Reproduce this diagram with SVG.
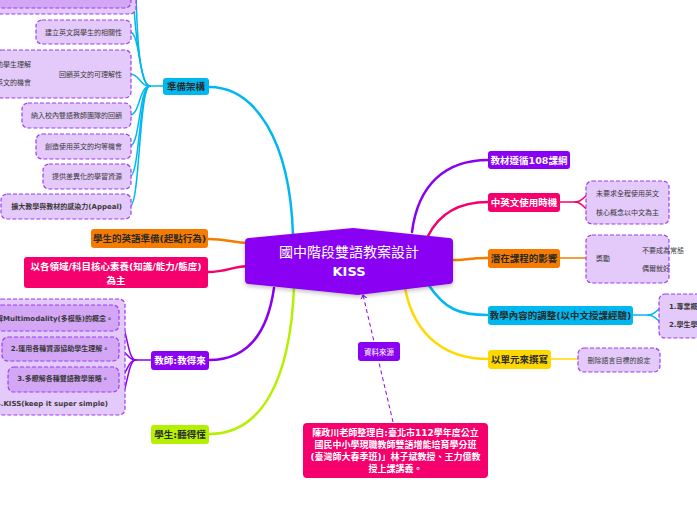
<svg xmlns="http://www.w3.org/2000/svg" width="697" height="520" viewBox="0 0 697 520">
<defs>
<style>
text{font-family:"DejaVu Sans","Noto Sans CJK TC",sans-serif;}
.box{fill:#e4c9fb;stroke:#9d3cf5;stroke-width:1.2;stroke-dasharray:4 2;}
.inner{fill:#d3a6f6;stroke:#9d3cf5;stroke-width:1.2;stroke-dasharray:4 2;}
.ct{font-size:7px;fill:#3a3a3a;}
.ctb{font-size:7px;fill:#3a3a3a;font-weight:bold;}
.nt{font-size:9.5px;font-weight:bold;text-anchor:middle;}
.w{fill:#ffffff;}
.d{fill:#2a2a2a;}
.c{fill:none;stroke-linecap:round;}
.main{stroke-width:2.5;}
.sub{stroke-width:1.5;}
.blue{stroke:#00b8f0;}
.pur{stroke:#8a00f2;}
.pink{stroke:#f5006c;}
.orng{stroke:#f57c00;}
.yel{stroke:#ffd800;}
.grn{stroke:#b4f000;}
</style>
<filter id="sh" x="-10%" y="-20%" width="120%" height="150%">
<feDropShadow dx="0" dy="2" stdDeviation="2" flood-color="#000" flood-opacity="0.25"/>
</filter>
<marker id="arr" markerWidth="8" markerHeight="8" refX="4" refY="4" orient="auto" markerUnits="userSpaceOnUse">
<path d="M0,1 L4,4 L0,7" fill="none" stroke="#8a00f2" stroke-width="1"/>
</marker>
</defs>
<rect width="697" height="520" fill="#ffffff"/>

<g id="connectors">
<path class="c main blue" d="M209,87 C255,87 290,140 293,235"/>
<path class="c main orng" d="M208,239 C228,239 232,243 250,243"/>
<path class="c main pink" d="M208,272 C228,272 232,266 250,266"/>
<path class="c main pur" d="M209,360 C250,360 268,330 274,288"/>
<path class="c main grn" d="M209,434 C262,434 290,380 294,288"/>
<path class="c main pur" d="M412,232 C418,185 445,160 488,160"/>
<path class="c main pink" d="M428,236 C440,212 460,202 488,202"/>
<path class="c main orng" d="M453,260 C466,260 468,258 488,258"/>
<path class="c main blue" d="M428,284 C445,310 460,315 488,315"/>
<path class="c main yel" d="M405,288 C415,340 450,359 488,359"/>
<path class="c sub blue" d="M163,86 L150,86 C140,86 137,40 136,-10"/>
<path class="c sub blue" d="M150,86 C141,86 134,30 133,-20"/>
<path class="c sub blue" d="M150,86 C139,86 140,32 130,32"/>
<path class="c sub blue" d="M150,86 C139,86 140,74 130,74"/>
<path class="c sub blue" d="M150,86 C139,86 140,115 130,115"/>
<path class="c sub blue" d="M150,86 C139,86 140,146 130,146"/>
<path class="c sub blue" d="M150,86 C139,86 140,176 130,176"/>
<path class="c sub blue" d="M150,86 C139,86 140,206 130,206"/>
<path class="c sub blue" d="M53,73 L44,73 M32,64 L41,64 Q44,64 44,67 L44,79 Q44,82 41,82 L32,82"/>
<path class="c sub pur" d="M151,360 L136,360 C126,360 128,318 115,318"/>
<path class="c sub pur" d="M136,360 C126,360 128,349 115,349"/>
<path class="c sub pur" d="M136,360 C126,360 128,379 115,379"/>
<path class="c sub pur" d="M136,360 C126,360 128,403 115,403"/>
<path class="c sub pink" d="M560,202 L575,202 C584,202 584,193 594,193"/>
<path class="c sub pink" d="M575,202 C584,202 584,212 594,212"/>
<path class="c sub orng" d="M560,258 L594,258"/>
<path class="c sub orng" d="M615,258 L626,258 M638,250 L629,250 Q626,250 626,253 L626,265 Q626,268 629,268 L638,268"/>
<path class="c sub blue" d="M633,315 L648,315 C657,315 657,306 667,306"/>
<path class="c sub blue" d="M648,315 C657,315 657,324 667,324"/>
<path class="c sub yel" d="M551,359 L578,359"/>
<path d="M393,422 L363,295" fill="none" stroke="#8a00f2" stroke-width="1" stroke-dasharray="4 3" marker-end="url(#arr)"/>
</g>

<g id="central">
<path d="M249,238 L353,228 L449,238 Q453,238 453,242 L453,280 Q453,284 449,284 L358,295 L249,284 Q245,284 245,280 L245,242 Q245,238 249,238 Z" fill="#8a00f2" filter="url(#sh)"/>
<text x="349" y="257" font-size="14" text-anchor="middle" class="w">國中階段雙語教案設計</text>
<text x="349" y="276" font-size="13" font-weight="bold" text-anchor="middle" class="w">KISS</text>
</g>

<g id="n-prep">
<rect x="163" y="78" width="46" height="17" rx="3" fill="#00b8f0"/>
<text x="186" y="90" class="nt d">準備架構</text>
</g>
<g id="n-prep-top">
<rect x="-5" y="-30" width="141" height="44" rx="6" class="box"/>
<rect x="-5" y="-30" width="136" height="38" rx="6" class="inner"/>
</g>
<g id="n-prep-1">
<rect x="36" y="20" width="95" height="24" rx="6" class="box"/>
<text x="122" y="34.5" text-anchor="end" class="ct">建立英文與學生的相關性</text>
</g>
<g id="n-prep-2">
<rect x="-5" y="50" width="136" height="48" rx="6" class="box"/>
<text x="122" y="76.5" text-anchor="end" class="ct">回饋英文的可理解性</text>
<text x="31" y="66.5" text-anchor="end" class="ct">幫助學生理解</text>
<text x="31" y="85" text-anchor="end" class="ct">增加使用英文的機會</text>
</g>
<g id="n-prep-3">
<rect x="22" y="103" width="109" height="25" rx="6" class="box"/>
<text x="122" y="118" text-anchor="end" class="ct">納入校內雙語教師團隊的回饋</text>
</g>
<g id="n-prep-4">
<rect x="36" y="134" width="95" height="25" rx="6" class="box"/>
<text x="122" y="149" text-anchor="end" class="ct">創造使用英文的均等機會</text>
</g>
<g id="n-prep-5">
<rect x="43" y="164" width="88" height="25" rx="6" class="box"/>
<text x="122" y="179" text-anchor="end" class="ct">提供差異化的學習資源</text>
</g>
<g id="n-prep-6">
<rect x="1" y="194" width="130" height="25" rx="6" class="box"/>
<text x="122" y="209" text-anchor="end" class="ctb">擴大教學與教材的感染力(Appeal)</text>
</g>

<g id="n-ready">
<rect x="91" y="229" width="117" height="19" rx="3" fill="#f57c00"/>
<text x="149.5" y="242" class="nt d">學生的英語準備(起點行為)</text>
</g>
<g id="n-core">
<rect x="24" y="257" width="184" height="31" rx="3" fill="#f5006c"/>
<text x="116" y="270" class="nt w">以各領域/科目核心素養(知識/能力/態度)</text>
<text x="116" y="284" class="nt w">為主</text>
</g>

<g id="n-teacher">
<rect x="151" y="351" width="58" height="19" rx="3" fill="#8a00f2"/>
<text x="180" y="364" class="nt w">教師:教得來</text>
</g>
<g id="n-teacher-kids">
<rect x="-5" y="299" width="130" height="116" rx="6" class="box"/>
<rect x="-5" y="305" width="124" height="26" rx="6" class="inner"/>
<text x="113" y="320.5" text-anchor="end" class="ctb">1.了解Multimodality(多模態)的概念。</text>
<rect x="2" y="337" width="117" height="24" rx="6" class="inner"/>
<text x="60" y="351" text-anchor="middle" class="ctb">2.運用各種資源協助學生理解。</text>
<rect x="8" y="367" width="111" height="25" rx="6" class="inner"/>
<text x="63" y="381" text-anchor="middle" class="ctb">3.多瞭解各種雙語教學策略。</text>
<text x="108" y="405.5" text-anchor="end" class="ctb">4.KISS(keep it super simple)</text>
</g>
<g id="n-student">
<rect x="151" y="425" width="58" height="19" rx="3" fill="#b4f000"/>
<text x="180" y="438" class="nt d">學生:聽得懂</text>
</g>

<g id="n-108">
<rect x="488" y="151" width="82" height="18" rx="3" fill="#8a00f2"/>
<text x="529" y="163.5" class="nt w">教材遵循108課綱</text>
</g>
<g id="n-lang">
<rect x="488" y="193" width="72" height="19" rx="3" fill="#f5006c"/>
<text x="524" y="206" class="nt w">中英文使用時機</text>
</g>
<g id="n-lang-kids">
<rect x="586" y="181" width="83" height="43" rx="6" class="box"/>
<text x="596" y="195.5" class="ct">未要求全程使用英文</text>
<text x="596" y="214.5" class="ct">核心概念以中文為主</text>
</g>
<g id="n-hidden">
<rect x="488" y="249" width="72" height="19" rx="3" fill="#f57c00"/>
<text x="524" y="262" class="nt d">潛在課程的影響</text>
</g>
<g id="n-hidden-kids">
<rect x="586" y="235" width="83" height="48" rx="6" class="box"/>
<text x="596" y="261" class="ct">獎勵</text>
<text x="642" y="252.5" class="ct">不要成為常態</text>
<text x="642" y="270.5" class="ct">偶爾就好</text>
</g>
<g id="n-adjust">
<rect x="488" y="306" width="145" height="19" rx="3" fill="#00b8f0"/>
<text x="560.5" y="319" class="nt d">教學內容的調整(以中文授課經驗)</text>
</g>
<g id="n-adjust-kids">
<rect x="659" y="294" width="50" height="44" rx="6" class="box"/>
<text x="669" y="308.5" class="ctb">1.專業概念</text>
<text x="669" y="327" class="ctb">2.學生學習</text>
</g>
<g id="n-unit">
<rect x="488" y="350" width="63" height="19" rx="3" fill="#ffd800"/>
<text x="519.5" y="363" class="nt d">以單元來撰寫</text>
</g>
<g id="n-unit-kid">
<rect x="578" y="348" width="82" height="24" rx="6" class="box"/>
<text x="619" y="362.5" text-anchor="middle" class="ct">刪除語言目標的設定</text>
</g>

<g id="n-srclabel">
<rect x="358" y="342" width="42" height="19" rx="3" fill="#8a00f2"/>
<text x="379" y="354.5" font-size="7.5" text-anchor="middle" class="w">資料來源</text>
</g>
<g id="n-source">
<rect x="303" y="423" width="185" height="55" rx="4" fill="#f5006c"/>
<text x="395.5" y="436" font-size="9" font-weight="bold" text-anchor="middle" class="w">陳政川老師整理自:臺北市112學年度公立</text>
<text x="395.5" y="448" font-size="9" font-weight="bold" text-anchor="middle" class="w">國民中小學現職教師雙語增能培育學分班</text>
<text x="395.5" y="460" font-size="9" font-weight="bold" text-anchor="middle" class="w">(臺灣師大春季班)」林子斌教授、王力億教</text>
<text x="395.5" y="472" font-size="9" font-weight="bold" text-anchor="middle" class="w">授上課講義。</text>
</g>
</svg>
